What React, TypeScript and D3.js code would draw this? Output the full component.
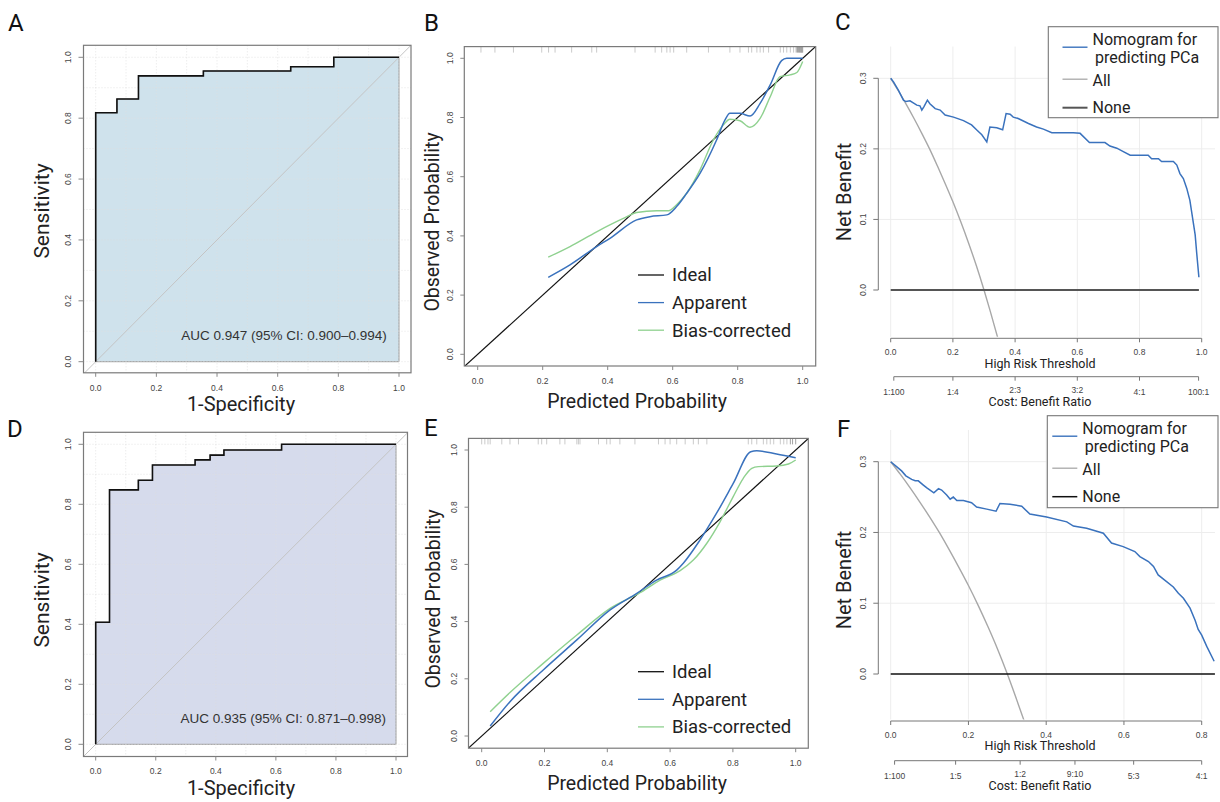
import React from 'react'
import * as d3 from 'd3'

// ---- data ----
const rocTicks = [0, 0.2, 0.4, 0.6, 0.8, 1]
const probTicks = [0, 0.2, 0.4, 0.6, 0.8, 1]

// ROC A (training) : 1-specificity / sensitivity step points
const rocAFpr = [0, 0, 0.07, 0.141, 0.355, 0.643, 0.785, 1]
const rocATpr = [0, 0.818, 0.863, 0.939, 0.955, 0.969, 1, 1]
const aucA = 'AUC 0.947 (95% CI: 0.900–0.994)'

// ROC D (validation)
const rocDFpr = [0, 0, 0.046, 0.142, 0.189, 0.331, 0.381, 0.427, 0.619, 1]
const rocDTpr = [0, 0.407, 0.848, 0.88, 0.931, 0.948, 0.964, 0.981, 1, 1]
const aucD = 'AUC 0.935 (95% CI: 0.871–0.998)'

// calibration B
const calBApparent = [
  [0.217, 0.26], [0.284, 0.302], [0.366, 0.364], [0.407, 0.392], [0.489, 0.454], [0.53, 0.465],
  [0.582, 0.471], [0.612, 0.499], [0.643, 0.544], [0.684, 0.611], [0.735, 0.724], [0.761, 0.792],
  [0.776, 0.814], [0.807, 0.814], [0.838, 0.805], [0.869, 0.848], [0.9, 0.91], [0.935, 0.992],
  [0.951, 1.0], [1.0, 1.0],
]
const calBBias = [
  [0.217, 0.328], [0.284, 0.364], [0.366, 0.414], [0.448, 0.459], [0.489, 0.479], [0.551, 0.485],
  [0.587, 0.485], [0.612, 0.505], [0.643, 0.544], [0.684, 0.623], [0.725, 0.724], [0.756, 0.775],
  [0.776, 0.794], [0.807, 0.789], [0.838, 0.767], [0.869, 0.797], [0.9, 0.87], [0.93, 0.938],
  [0.961, 0.944], [0.982, 0.952], [1.0, 0.989],
]
const rugB = [
  0.01, 0.053, 0.11, 0.197, 0.218, 0.238, 0.289, 0.351, 0.366, 0.484, 0.546, 0.566, 0.582, 0.592,
  0.603, 0.643, 0.71, 0.776, 0.807, 0.833, 0.843, 0.859, 0.869, 0.879, 0.895, 0.931, 0.941, 0.951,
  0.962, 0.972, 0.98, 0.984, 0.987, 0.99, 0.992, 0.994, 0.996, 0.998, 1.0,
]

// calibration E
const calEApparent = [
  [0.027, 0.035], [0.09, 0.12], [0.196, 0.231], [0.303, 0.336], [0.409, 0.441], [0.494, 0.499],
  [0.557, 0.545], [0.621, 0.58], [0.642, 0.604], [0.695, 0.685], [0.748, 0.779], [0.801, 0.883],
  [0.857, 0.994], [0.876, 0.997], [0.939, 0.986], [1.0, 0.973],
]
const calEBias = [
  [0.027, 0.085], [0.09, 0.152], [0.196, 0.254], [0.303, 0.353], [0.409, 0.446], [0.504, 0.501],
  [0.568, 0.545], [0.632, 0.578], [0.674, 0.615], [0.717, 0.674], [0.759, 0.749], [0.801, 0.837],
  [0.833, 0.901], [0.86, 0.936], [0.881, 0.942], [0.939, 0.944], [0.977, 0.951], [1.0, 0.965],
]
const rugE = [
  0.0, 0.01, 0.02, 0.027, 0.064, 0.09, 0.117, 0.18, 0.191, 0.207, 0.249, 0.265, 0.303, 0.308, 0.313,
  0.372, 0.398, 0.409, 0.44, 0.488, 0.563, 0.584, 0.6, 0.621, 0.648, 0.674, 0.69, 0.717, 0.849, 0.86,
  0.876, 0.897, 0.908, 0.919, 0.93, 0.951, 0.962, 0.972, 0.983, 0.99, 1.0,
]
const calLegend = ['Ideal', 'Apparent', 'Bias-corrected']

// decision curves C
const dcaCModel = [
  [0, 0.3], [0.009, 0.295], [0.025, 0.283], [0.041, 0.269], [0.049, 0.267], [0.062, 0.268],
  [0.084, 0.262], [0.094, 0.261], [0.1, 0.255], [0.107, 0.26], [0.118, 0.269], [0.126, 0.264],
  [0.143, 0.257], [0.159, 0.255], [0.175, 0.248], [0.202, 0.245], [0.234, 0.24], [0.26, 0.234],
  [0.276, 0.227], [0.293, 0.22], [0.309, 0.21], [0.319, 0.231], [0.341, 0.23], [0.36, 0.227],
  [0.371, 0.25], [0.384, 0.249], [0.394, 0.245], [0.41, 0.243], [0.443, 0.236], [0.469, 0.231],
  [0.491, 0.228], [0.518, 0.223], [0.587, 0.223], [0.609, 0.222], [0.639, 0.209], [0.689, 0.209],
  [0.705, 0.204], [0.727, 0.201], [0.748, 0.196], [0.77, 0.191], [0.828, 0.191], [0.839, 0.186],
  [0.861, 0.186], [0.871, 0.182], [0.909, 0.182], [0.92, 0.177], [0.93, 0.165], [0.941, 0.158],
  [0.952, 0.144], [0.962, 0.127], [0.979, 0.078], [0.984, 0.052], [0.991, 0.018],
]
const dcaAll = [
  [0, 0.3], [0.025, 0.282], [0.05, 0.263], [0.075, 0.243], [0.1, 0.222], [0.125, 0.2], [0.15, 0.176],
  [0.175, 0.151], [0.2, 0.125], [0.225, 0.097], [0.25, 0.067], [0.275, 0.035], [0.3, 0.0],
  [0.32, -0.03], [0.345, -0.069],
]
const dcaCNone = [[0, 0], [0.991, 0]]
const dcaCTicks = [0, 0.2, 0.4, 0.6, 0.8, 1]
const dcaCRatioAt = [0.01, 0.2, 0.4, 0.6, 0.8, 0.99]
const dcaCRatio = ['1:100', '1:4', '2:3', '3:2', '4:1', '100:1']

// decision curves F
const dcaFModel = [
  [0, 0.3], [0.015, 0.293], [0.028, 0.287], [0.039, 0.28], [0.054, 0.275], [0.063, 0.273],
  [0.071, 0.273], [0.084, 0.267], [0.093, 0.263], [0.111, 0.256], [0.123, 0.262], [0.131, 0.26],
  [0.144, 0.253], [0.153, 0.247], [0.161, 0.25], [0.17, 0.245], [0.187, 0.245], [0.208, 0.242],
  [0.221, 0.236], [0.247, 0.233], [0.271, 0.23], [0.281, 0.241], [0.307, 0.24], [0.337, 0.237],
  [0.358, 0.226], [0.401, 0.222], [0.453, 0.215], [0.47, 0.209], [0.504, 0.206], [0.547, 0.199],
  [0.568, 0.185], [0.598, 0.18], [0.628, 0.173], [0.641, 0.166], [0.663, 0.159], [0.676, 0.152],
  [0.688, 0.14], [0.727, 0.123], [0.74, 0.114], [0.753, 0.107], [0.77, 0.093], [0.783, 0.076],
  [0.791, 0.063], [0.8, 0.055], [0.813, 0.039], [0.832, 0.018],
]
const dcaFNone = [[0, 0], [0.834, 0]]
const dcaFTicks = [0, 0.2, 0.4, 0.6, 0.8]
const dcaFRatioAt = [0.01, 0.167, 0.333, 0.474, 0.625, 0.8]
const dcaFRatio = ['1:100', '1:5', '1:2', '9:10', '5:3', '4:1']
const nbTicks = [0, 0.1, 0.2, 0.3]
const dcaLegend = ['Nomogram for', 'predicting PCa', 'All', 'None']

const TITLE = "Roboto, 'Open Sans', sans-serif"
const TICK = "'Liberation Sans', Arial, sans-serif"
const BLUE = '#3a72bd'
const GREEN = '#8fd18f'
const f1 = d3.format('.1f')

function Tag({ x, y, t }) {
  return (
    <text x={x} y={y} fontFamily={TITLE} fontSize={24} fill="#111">
      {t}
    </text>
  )
}

function RocPanel({ id, box, xPx, yPx, fpr, tpr, fill, auc, labY }) {
  const x = d3.scaleLinear().domain([0, 1]).range(xPx)
  const y = d3.scaleLinear().domain([0, 1]).range(yPx)
  const pts = d3.zip(fpr, tpr)
  const area = d3.area().x((d) => x(d[0])).y0(y(0)).y1((d) => y(d[1])).curve(d3.curveStepAfter)
  const line = d3.line().x((d) => x(d[0])).y((d) => y(d[1])).curve(d3.curveStepAfter)
  const grid = d3.range(0, 11).map((i) => i / 10)
  const diag = [x.invert(box.l) - 0.02, x.invert(box.r) + 0.02]
  return (
    <g>
      <clipPath id={id}>
        <rect x={box.l} y={box.t} width={box.r - box.l} height={box.b - box.t} />
      </clipPath>
      <path d={area(pts)} fill={fill} stroke="#9a9a9a" strokeWidth={1} />
      <g stroke="#dedede" strokeWidth={0.8} strokeDasharray="1 2">
        {grid.map((g) => (
          <line key={'v' + g} x1={x(g)} x2={x(g)} y1={box.t} y2={box.b} />
        ))}
        {grid.map((g) => (
          <line key={'h' + g} y1={y(g)} y2={y(g)} x1={box.l} x2={box.r} />
        ))}
      </g>
      <line
        x1={x(diag[0])} y1={y(diag[0])} x2={x(diag[1])} y2={y(diag[1])}
        stroke="#c4c4c4" strokeWidth={1} clipPath={`url(#${id})`}
      />
      <path d={line(pts)} fill="none" stroke="#111" strokeWidth={1.6} />
      <rect x={box.l} y={box.t} width={box.r - box.l} height={box.b - box.t} fill="none" stroke="#7a7a7a" strokeWidth={1.2} />
      <g fontFamily={TICK} fontSize={8.5} fill="#444" textAnchor="middle">
        {rocTicks.map((t) => (
          <g key={t}>
            <line x1={x(t)} x2={x(t)} y1={box.b} y2={box.b + 4} stroke="#888" />
            <text x={x(t)} y={box.b + 15} dy="0.35em">{f1(t)}</text>
            <line x1={box.l} x2={box.l - 5} y1={y(t)} y2={y(t)} stroke="#888" />
            <text transform={`translate(${box.l - 15},${y(t)}) rotate(-90)`} dy="0.35em">{f1(t)}</text>
          </g>
        ))}
      </g>
      <text x={x(0.282)} y={y(0.071)} fontFamily={TICK} fontSize={13.5} fill="#333">
        {auc}
      </text>
      <text transform={`translate(42,${labY}) rotate(-90)`} textAnchor="middle" dy="0.35em" fontFamily={TITLE} fontSize={21} fill="#222">
        Sensitivity
      </text>
      <text x={241} y={box.b + 31} textAnchor="middle" dy="0.35em" fontFamily={TITLE} fontSize={20} fill="#222">
        1-Specificity
      </text>
    </g>
  )
}

function CalPanel({ id, box, xPx, yPx, apparent, bias, rug, legX, legY, titleX, titleY, yTitleX, yTitleY }) {
  const x = d3.scaleLinear().domain([0, 1]).range(xPx)
  const y = d3.scaleLinear().domain([0, 1]).range(yPx)
  const line = d3.line().x((d) => x(d[0])).y((d) => y(d[1])).curve(d3.curveMonotoneX)
  const colors = ['#111', BLUE, GREEN]
  return (
    <g>
      <clipPath id={id}>
        <rect x={box.l} y={box.t} width={box.r - box.l} height={box.b - box.t} />
      </clipPath>
      <g stroke="#bdbdbd" strokeWidth={0.9}>
        {rug.map((r, i) => (
          <line key={i} x1={x(r)} x2={x(r)} y1={box.t} y2={box.t + 6} stroke={r > 0.975 ? '#999' : '#c4c4c4'} />
        ))}
      </g>
      <line x1={x(-0.1)} y1={y(-0.1)} x2={x(1.1)} y2={y(1.1)} stroke="#111" strokeWidth={1.2} clipPath={`url(#${id})`} />
      <path d={line(bias)} fill="none" stroke={GREEN} strokeWidth={1.4} />
      <path d={line(apparent)} fill="none" stroke={BLUE} strokeWidth={1.5} />
      <rect x={box.l} y={box.t} width={box.r - box.l} height={box.b - box.t} fill="none" stroke="#7a7a7a" strokeWidth={1.2} />
      <g fontFamily={TICK} fontSize={8.5} fill="#444" textAnchor="middle">
        {probTicks.map((t) => (
          <g key={t}>
            <line x1={x(t)} x2={x(t)} y1={box.b} y2={box.b + 4} stroke="#888" />
            <text x={x(t)} y={box.b + 15} dy="0.35em">{f1(t)}</text>
            <line x1={box.l} x2={box.l - 4} y1={y(t)} y2={y(t)} stroke="#888" />
            <text transform={`translate(${box.l - 14},${y(t)}) rotate(-90)`} dy="0.35em">{f1(t)}</text>
          </g>
        ))}
      </g>
      {calLegend.map((lab, i) => (
        <g key={lab}>
          <line x1={legX} x2={legX + 26} y1={legY + i * 27.6} y2={legY + i * 27.6} stroke={colors[i]} strokeWidth={1.3} />
          <text x={legX + 34} y={legY + i * 27.6} dy="0.35em" fontFamily={TITLE} fontSize={18.5} fill="#222">
            {lab}
          </text>
        </g>
      ))}
      <text x={titleX} y={titleY} textAnchor="middle" dy="0.35em" fontFamily={TITLE} fontSize={19.5} fill="#222">
        Predicted Probability
      </text>
      <text transform={`translate(${yTitleX},${yTitleY}) rotate(-90)`} textAnchor="middle" dy="0.35em" fontFamily={TITLE} fontSize={19.5} fill="#222">
        Observed Probability
      </text>
    </g>
  )
}

function DcaPanel({ id, region, xMax, xTicks, yZero, yTop, model, none, noneColor, noneWidth, ratioAt, ratio, axis2Y, leg, nbY }) {
  const x = d3.scaleLinear().domain([0, xMax]).range([890.7, 1201.7])
  const y = d3.scaleLinear().domain([0, 0.3]).range([yZero, yTop])
  const line = d3.line().x((d) => x(d[0])).y((d) => y(d[1]))
  const smooth = d3.line().x((d) => x(d[0])).y((d) => y(d[1])).curve(d3.curveMonotoneX)
  const { l, r, t, b } = region
  const xAxisY = b + 1.5
  return (
    <g>
      <clipPath id={id}>
        <rect x={l} y={t} width={r - l} height={b - t} />
      </clipPath>
      <g stroke="#ededed" strokeWidth={1}>
        {xTicks.map((v) => (
          <line key={'v' + v} x1={x(v)} x2={x(v)} y1={t} y2={b} />
        ))}
        {nbTicks.slice(1).map((v) => (
          <line key={'h' + v} x1={l} x2={r} y1={y(v)} y2={y(v)} />
        ))}
      </g>
      <g clipPath={`url(#${id})`}>
        <path d={smooth(dcaAll)} fill="none" stroke="#a8a8a8" strokeWidth={1.4} />
        <path d={line(none)} fill="none" stroke={noneColor} strokeWidth={noneWidth} />
        <path d={line(model)} fill="none" stroke={BLUE} strokeWidth={1.5} />
      </g>
      <g fontFamily={TICK} fontSize={8.5} fill="#444" textAnchor="middle" stroke="none">
        <line x1={l} x2={l} y1={y(0)} y2={y(0.3)} stroke="#777" />
        {nbTicks.map((v) => (
          <g key={v}>
            <line x1={l} x2={l - 5} y1={y(v)} y2={y(v)} stroke="#777" />
            <text transform={`translate(${l - 15},${y(v)}) rotate(-90)`} dy="0.35em">{f1(v)}</text>
          </g>
        ))}
        <line x1={x(0)} x2={x(xMax)} y1={xAxisY} y2={xAxisY} stroke="#777" />
        {xTicks.map((v) => (
          <g key={v}>
            <line x1={x(v)} x2={x(v)} y1={xAxisY} y2={xAxisY + 4} stroke="#777" />
            <text x={x(v)} y={xAxisY + 14} dy="0.35em">{f1(v)}</text>
          </g>
        ))}
        <line x1={x(ratioAt[0])} x2={x(ratioAt[ratioAt.length - 1])} y1={axis2Y} y2={axis2Y} stroke="#777" />
        {ratioAt.map((v, i) => (
          <g key={v}>
            <line x1={x(v)} x2={x(v)} y1={axis2Y} y2={axis2Y + 4} stroke="#777" />
            <text x={x(v)} y={axis2Y + 15 - (i === 2 || i === 3 ? 2 : 0)} dy="0.35em">{ratio[i]}</text>
          </g>
        ))}
      </g>
      <text x={1040} y={xAxisY + 25} textAnchor="middle" dy="0.35em" fontFamily={TITLE} fontSize={12.5} fill="#222">
        High Risk Threshold
      </text>
      <text x={1040} y={axis2Y + 24.5} textAnchor="middle" dy="0.35em" fontFamily={TITLE} fontSize={12.5} fill="#222">
        Cost: Benefit Ratio
      </text>
      <text transform={`translate(${844},${nbY}) rotate(-90)`} textAnchor="middle" dy="0.35em" fontFamily={TITLE} fontSize={20} fill="#222">
        Net Benefit
      </text>
      <g>
        <rect x={leg.l} y={leg.t} width={1218 - leg.l} height={leg.b - leg.t} fill="#fff" stroke="#777" strokeWidth={1.1} />
        <line x1={leg.lx} x2={leg.lx + 25} y1={leg.t + 20.5} y2={leg.t + 20.5} stroke={BLUE} strokeWidth={1.4} />
        <line x1={leg.lx} x2={leg.lx + 25} y1={leg.t + 52.5} y2={leg.t + 52.5} stroke="#a8a8a8" strokeWidth={1.3} />
        <line x1={leg.lx} x2={leg.lx + 25} y1={leg.t + 81} y2={leg.t + 81} stroke={noneColor} strokeWidth={noneWidth} />
        <g fontFamily={TITLE} fontSize={16} fill="#222">
          <text x={leg.lx + 30} y={leg.t + 12.6} dy="0.35em">{dcaLegend[0]}</text>
          <text x={leg.lx + 32.5} y={leg.t + 30.6} dy="0.35em">{dcaLegend[1]}</text>
          <text x={leg.lx + 30} y={leg.t + 53.3} dy="0.35em">{dcaLegend[2]}</text>
          <text x={leg.lx + 30} y={leg.t + 81} dy="0.35em">{dcaLegend[3]}</text>
        </g>
      </g>
    </g>
  )
}

export default function App() {
  return (
    <svg width={1220} height={802} style={{ position: 'absolute', left: 0, top: 0, background: '#fff' }}>
      <Tag x={8} y={31} t="A" />
      <Tag x={424} y={31} t="B" />
      <Tag x={835} y={30} t="C" />
      <Tag x={7} y={437} t="D" />
      <Tag x={424} y={436} t="E" />
      <Tag x={837} y={437} t="F" />

      <RocPanel
        id="clipA" box={{ l: 83.5, r: 411, t: 45.3, b: 372.8 }} xPx={[95.7, 399]} yPx={[361.7, 57.3]}
        fpr={rocAFpr} tpr={rocATpr} fill="#cfe2ec" auc={aucA} labY={211}
      />
      <RocPanel
        id="clipD" box={{ l: 83.5, r: 407.5, t: 432.3, b: 756.5 }} xPx={[95.7, 396]} yPx={[744.3, 444.3]}
        fpr={rocDFpr} tpr={rocDTpr} fill="#d6dbec" auc={aucD} labY={600}
      />

      <CalPanel
        id="clipB" box={{ l: 464.3, r: 815.7, t: 46.6, b: 366 }} xPx={[477.7, 802.7]} yPx={[354.3, 58.3]}
        apparent={calBApparent} bias={calBBias} rug={rugB} legX={638} legY={275}
        titleX={637} titleY={401} yTitleX={432} yTitleY={222}
      />
      <CalPanel
        id="clipE" box={{ l: 468.5, r: 808.3, t: 438.4, b: 748.2 }} xPx={[481.7, 795.7]} yPx={[736, 450]}
        apparent={calEApparent} bias={calEBias} rug={rugE} legX={638} legY={671.7}
        titleX={637} titleY={783} yTitleX={433} yTitleY={599}
      />

      <DcaPanel
        id="clipC" region={{ l: 878.3, r: 1215, t: 46.5, b: 336.8 }} xMax={1} xTicks={dcaCTicks}
        yZero={290} yTop={78.3} model={dcaCModel} none={dcaCNone} noneColor="#555" noneWidth={2}
        ratioAt={dcaCRatioAt} ratio={dcaCRatio} axis2Y={376.7}
        leg={{ l: 1048.3, t: 26.7, b: 117.7, lx: 1062.5 }} nbY={192}
      />
      <DcaPanel
        id="clipF" region={{ l: 878.3, r: 1215, t: 430, b: 719.5 }} xMax={0.8} xTicks={dcaFTicks}
        yZero={674} yTop={461.7} model={dcaFModel} none={dcaFNone} noneColor="#111" noneWidth={1.5}
        ratioAt={dcaFRatioAt} ratio={dcaFRatio} axis2Y={760.7}
        leg={{ l: 1047.3, t: 415.7, b: 507.7, lx: 1052.3 }} nbY={580}
      />
    </svg>
  )
}
